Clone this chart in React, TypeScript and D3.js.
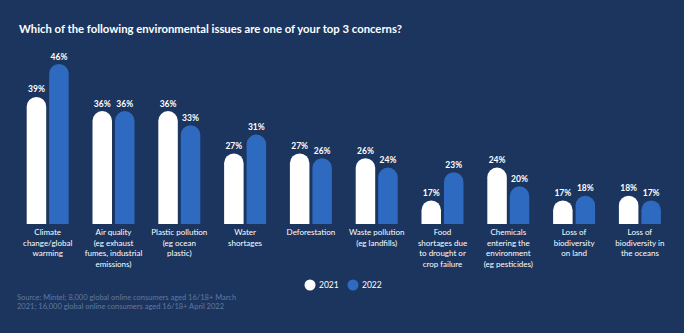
import React from "react";
import * as d3 from "d3";

const W = 684;
const H = 333;

const categories = [
  "Climate change/global warming",
  "Air quality (eg exhaust fumes, industrial emissions)",
  "Plastic pollution (eg ocean plastic)",
  "Water shortages",
  "Deforestation",
  "Waste pollution (eg landfills)",
  "Food shortages due to drought or crop failure",
  "Chemicals entering the environment (eg pesticides)",
  "Loss of biodiversity on land",
  "Loss of biodiversity in the oceans",
];

const categoryLines = [
  ["Climate", "change/global", "warming"],
  ["Air quality", "(eg exhaust", "fumes, industrial", "emissions)"],
  ["Plastic pollution", "(eg ocean", "plastic)"],
  ["Water", "shortages"],
  ["Deforestation"],
  ["Waste pollution", "(eg landfills)"],
  ["Food", "shortages due", "to drought or", "crop failure"],
  ["Chemicals", "entering the", "environment", "(eg pesticides)"],
  ["Loss of", "biodiversity", "on land"],
  ["Loss of", "biodiversity in", "the oceans"],
];

const series = ["2021", "2022"];
const values2021 = [39, 36, 36, 27, 27, 26, 17, 24, 17, 18];
const values2022 = [46, 36, 33, 31, 26, 24, 23, 20, 18, 17];

const title = "Which of the following environmental issues are one of your top 3 concerns?";
const sourceLines = [
  "Source: Mintel; 8,000 global online consumers aged 16/18+ March",
  "2021; 16,000 global online consumers aged 16/18+ April 2022",
];

const BG = "#1b355e";
const WHITE = "#ffffff";
const BLUE = "#2e6bc0";
const FONT = "Lato, 'Open Sans', sans-serif";

function barPath(x: number, w: number, yTop: number, yBase: number) {
  const r = w / 2;
  const h = yBase - yTop;
  const rr = Math.min(r, h);
  return `M${x},${yBase} L${x},${yTop + rr} A${r},${rr} 0 0 1 ${x + w},${yTop + rr} L${x + w},${yBase} Z`;
}

export default function App() {
  const x0 = d3
    .scaleBand<string>()
    .domain(categories)
    .range([14.8, 672.8])
    .paddingInner(0.362)
    .paddingOuter(0.181);
  const x1 = d3
    .scaleBand<string>()
    .domain(series)
    .range([0, x0.bandwidth()])
    .paddingInner(0.133);
  const y = d3.scaleLinear().domain([12, 46]).range([224, 64]);
  const color = d3.scaleOrdinal<string, string>().domain(series).range([WHITE, BLUE]);
  const data = [values2021, values2022];

  return (
    <svg
      width={W}
      height={H}
      style={{ position: "absolute", left: 0, top: 0, display: "block" }}
      fontFamily={FONT}
    >
      <rect x={0} y={0} width={W} height={H} fill={BG} />
      <text x={19} y={33} fill={WHITE} fontSize={11.3} fontWeight={700}>
        {title}
      </text>
      {categories.map((c, i) => {
        const gx = x0(c)!;
        return (
          <g key={c}>
            {series.map((s, si) => {
              const bx = gx + x1(s)!;
              const bw = x1.bandwidth();
              const v = data[si][i];
              const yt = y(v);
              return (
                <g key={s}>
                  <path d={barPath(bx, bw, yt, y(12))} fill={color(s)} />
                  <text
                    x={bx + bw / 2}
                    y={yt - 4.5}
                    textAnchor="middle"
                    fill={WHITE}
                    fontSize={8.5}
                    fontWeight={700}
                  >
                    {v}%
                  </text>
                </g>
              );
            })}
            <text
              x={gx + x0.bandwidth() / 2}
              textAnchor="middle"
              fill={WHITE}
              fontSize={8}
            >
              {categoryLines[i].map((l, li) => (
                <tspan key={li} x={gx + x0.bandwidth() / 2} y={235 + li * 10.5}>
                  {l}
                </tspan>
              ))}
            </text>
          </g>
        );
      })}
      {series.map((s, i) => {
        const cx = 310 + i * 43;
        return (
          <g key={s}>
            <circle cx={cx} cy={285} r={5.5} fill={color(s)} />
            <text x={cx + 9} y={288} fill={WHITE} fontSize={8.5}>
              {s}
            </text>
          </g>
        );
      })}
      {sourceLines.map((l, i) => (
        <text key={i} x={17} y={300 + i * 9} fill="#62789f" fontSize={7.5}>
          {l}
        </text>
      ))}
    </svg>
  );
}
